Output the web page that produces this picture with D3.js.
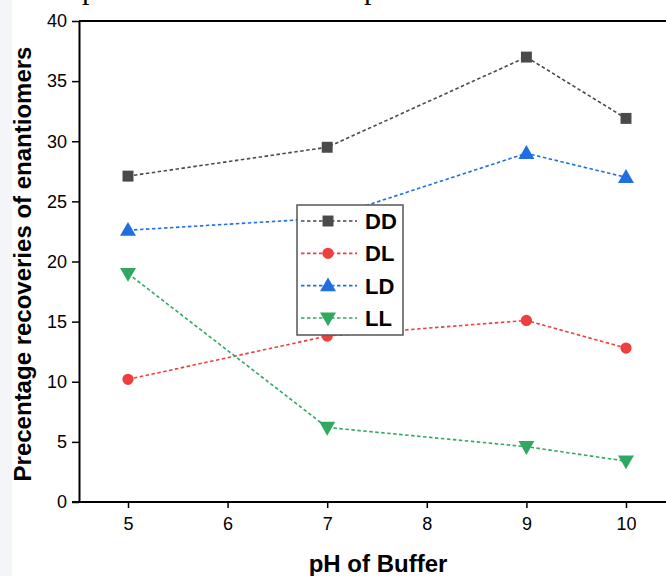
<!DOCTYPE html>
<html>
<head>
<meta charset="utf-8">
<script src="https://cdn.jsdelivr.net/npm/d3@7"></script>
<style>
  body { margin: 0; background: #fff; }
  svg { display: block; font-family: "Liberation Sans", Arial, sans-serif; }
</style>
</head>
<body>
<div id="chart"></div>
<script>
const phValues = [5, 7, 9, 10];
const xTicks = [5, 6, 7, 8, 9, 10];
const yTicks = [0, 5, 10, 15, 20, 25, 30, 35, 40];
const seriesNames = ['DD', 'DL', 'LD', 'LL'];
const ddValues = [27.1, 29.5, 37.0, 31.9];
const dlValues = [10.2, 13.8, 15.1, 12.8];
const ldValues = [22.6, 23.6, 29.0, 27.0];
const llValues = [19.0, 6.2, 4.6, 3.4];
const seriesColors = ['#4a4a4a', '#ef3e3e', '#1f6fe0', '#2fa862'];

const width = 666, height = 576;
const svg = d3.select('#chart').append('svg')
  .attr('width', width).attr('height', height);

// faint page edge on the left
svg.append('rect').attr('x', 0).attr('y', 0).attr('width', 12).attr('height', height)
  .attr('fill', '#f4f5f8');

// cut-off caption descenders at top
svg.append('text').attr('x', 82).attr('y', -1)
  .style('font-family', '"Liberation Serif", serif').style('font-size', '30px').text('p');
svg.append('text').attr('x', 364).attr('y', -1)
  .style('font-family', '"Liberation Serif", serif').style('font-size', '30px').text('p');

const x = d3.scaleLinear().domain([5, 10]).range([128, 626]);
const y = d3.scaleLinear().domain([0, 40]).range([502, 21]);

// frame: top line
svg.append('line').attr('x1', 79).attr('x2', width).attr('y1', 21).attr('y2', 21)
  .attr('stroke', '#000').attr('stroke-width', 2);

const xAxis = svg.append('g').attr('transform', 'translate(0,502)')
  .call(d3.axisBottom(x).tickValues(xTicks).tickFormat(d3.format('d'))
    .tickSize(6).tickSizeOuter(0).tickPadding(9));
xAxis.select('.domain').attr('d', `M72,0H${width}`).attr('stroke-width', 2);
xAxis.selectAll('.tick line').attr('stroke-width', 1.5);
xAxis.selectAll('text').style('font-size', '18px').attr('fill', '#000');

const yAxis = svg.append('g').attr('transform', 'translate(79,0)')
  .call(d3.axisLeft(y).tickValues(yTicks).tickFormat(d3.format('d'))
    .tickSize(7).tickSizeOuter(0).tickPadding(5));
yAxis.select('.domain').attr('stroke-width', 2);
yAxis.selectAll('.tick line').attr('stroke-width', 1.5);
yAxis.selectAll('text').style('font-size', '18px').attr('fill', '#000');

svg.append('text').attr('x', 378).attr('y', 572).attr('text-anchor', 'middle')
  .style('font-size', '24px').style('font-weight', 'bold').text('pH of Buffer');
svg.append('text').attr('transform', 'translate(31,264) rotate(-90)').attr('text-anchor', 'middle')
  .style('font-size', '24px').style('font-weight', 'bold').text('Precentage recoveries of enantiomers');

const seriesData = [ddValues, dlValues, ldValues, llValues];
const symbols = [d3.symbolSquare, d3.symbolCircle, d3.symbolTriangle, d3.symbolTriangle];
const symbolSizes = [120, 100, 110, 110];
const rotations = [0, 0, 0, 180];

const line = d3.line().x(d => x(d.ph)).y(d => y(d.v));

seriesData.forEach((vals, i) => {
  const pts = vals.map((v, j) => ({ ph: phValues[j], v }));
  const g = svg.append('g');
  g.append('path').datum(pts).attr('d', line)
    .attr('fill', 'none').attr('stroke', seriesColors[i])
    .attr('stroke-width', 1.6).attr('stroke-dasharray', '3.5,2.5');
  g.selectAll('path.m').data(pts).enter().append('path').attr('class', 'm')
    .attr('d', d3.symbol().type(symbols[i]).size(symbolSizes[i]))
    .attr('transform', d => `translate(${x(d.ph)},${y(d.v) + (i === 2 ? 1 : i === 3 ? -1 : 0)}) rotate(${rotations[i]})`)
    .attr('fill', seriesColors[i]);
});

// legend
const legend = svg.append('g').attr('transform', 'translate(297,205)');
legend.append('rect').attr('width', 106).attr('height', 130)
  .attr('fill', '#fff').attr('stroke', '#555').attr('stroke-width', 1.5);
const legendY = d3.scalePoint().domain(seriesNames).range([16, 113]);
seriesNames.forEach((name, i) => {
  const ly = legendY(name);
  legend.append('line').attr('x1', 4).attr('x2', 60).attr('y1', ly).attr('y2', ly)
    .attr('stroke', seriesColors[i]).attr('stroke-width', 1.6).attr('stroke-dasharray', '3.5,2.5');
  legend.append('path')
    .attr('d', d3.symbol().type(symbols[i]).size(symbolSizes[i]))
    .attr('transform', `translate(31,${ly + (i === 2 ? 1 : i === 3 ? -1 : 0)}) rotate(${rotations[i]})`)
    .attr('fill', seriesColors[i]);
  legend.append('text').attr('x', 68).attr('y', ly + 8)
    .style('font-size', '22px').style('font-weight', 'bold').text(name);
});
</script>
</body>
</html>
